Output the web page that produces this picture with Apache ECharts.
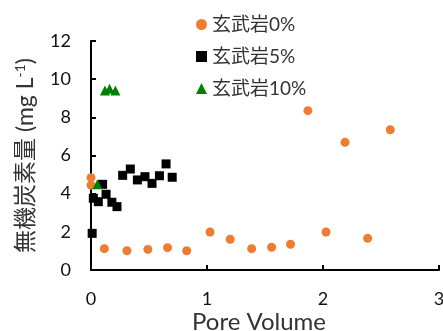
<!DOCTYPE html>
<html><head><meta charset="utf-8">
<script src="https://cdn.jsdelivr.net/npm/echarts@6/dist/echarts.min.js"></script>
<style>html,body{margin:0;padding:0;background:#fff}#c{width:443px;height:331px}</style>
</head><body><div id="c"></div>
<script>
var seriesNames = ['玄武岩0%', '玄武岩5%', '玄武岩10%'];
var basalt0X = [0, 0, 0.115, 0.31, 0.49, 0.66, 0.825, 1.026, 1.20, 1.385, 1.557, 1.72, 1.87, 2.026, 2.19, 2.385, 2.58];
var basalt0Y = [4.84, 4.45, 1.12, 1.01, 1.08, 1.17, 1.01, 1.99, 1.61, 1.12, 1.19, 1.35, 8.35, 1.99, 6.69, 1.66, 7.35];
var basalt5X = [0.01, 0.02, 0.063, 0.10, 0.13, 0.18, 0.224, 0.273, 0.339, 0.40, 0.465, 0.526, 0.59, 0.647, 0.70];
var basalt5Y = [1.92, 3.76, 3.58, 4.49, 3.97, 3.55, 3.32, 4.96, 5.29, 4.72, 4.89, 4.54, 4.94, 5.56, 4.86];
var basalt10X = [0.055, 0.12, 0.16, 0.21];
var basalt10Y = [4.49, 9.4, 9.5, 9.4];
var xTicks = [0, 1, 2, 3];
var yTicks = [0, 2, 4, 6, 8, 10, 12];
var xTitle = 'Pore Volume';
var yTitle = '無機炭素量 (mg L{sup|-1})';

function pairs(xs, ys) { return xs.map(function (x, i) { return [x, ys[i]]; }); }
var font = 'Lato, "Noto Sans CJK JP", sans-serif';
var chart = echarts.init(document.getElementById('c'));
chart.setOption({
  animation: false,
  grid: { left: 91, right: 4, top: 41, bottom: 61, containLabel: false, outerBoundsMode: 'none' },
  legend: {
    orient: 'vertical', left: 191, top: 10, itemGap: 13,
    itemWidth: 11, itemHeight: 11,
    textStyle: { fontFamily: font, fontSize: 19, color: '#333' },
    data: seriesNames
  },
  xAxis: {
    type: 'value', min: xTicks[0], max: xTicks[xTicks.length - 1], interval: 1,
    name: xTitle, nameLocation: 'middle', nameGap: 40, nameMoveOverlap: false,
    nameTextStyle: { fontFamily: font, fontSize: 24, color: '#333', padding: [0, 12, 0, 0] },
    axisLine: { lineStyle: { color: '#000', width: 2 } },
    axisTick: { inside: true, length: 5, lineStyle: { color: '#000', width: 2 } },
    axisLabel: { margin: 20, fontFamily: font, fontSize: 18, color: '#111' },
    splitLine: { show: false }
  },
  yAxis: {
    type: 'value', min: yTicks[0], max: yTicks[yTicks.length - 1], interval: 2,
    name: yTitle, nameLocation: 'middle', nameGap: 53, nameRotate: 90, nameMoveOverlap: false,
    nameTextStyle: { fontFamily: font, fontSize: 23, color: '#333',
      rich: { sup: { fontFamily: font, fontSize: 14, color: '#333', verticalAlign: 'top', padding: [0, 0, 11, 0] } } },
    axisLine: { show: true, lineStyle: { color: '#000', width: 2 } },
    axisTick: { show: true, inside: true, length: 5, lineStyle: { color: '#000', width: 2 } },
    axisLabel: { margin: 20, fontFamily: font, fontSize: 18, color: '#111' },
    splitLine: { show: false }
  },
  series: [
    { name: seriesNames[0], type: 'scatter', symbol: 'circle', symbolSize: 9,
      itemStyle: { color: '#ED7D31', opacity: 1 }, data: pairs(basalt0X, basalt0Y) },
    { name: seriesNames[1], type: 'scatter', symbol: 'rect', symbolSize: 9,
      itemStyle: { color: '#000', opacity: 1 }, data: pairs(basalt5X, basalt5Y) },
    { name: seriesNames[2], type: 'scatter', symbol: 'triangle', symbolSize: 10,
      itemStyle: { color: '#008000', opacity: 1 }, data: pairs(basalt10X, basalt10Y) }
  ]
});
</script></body></html>
